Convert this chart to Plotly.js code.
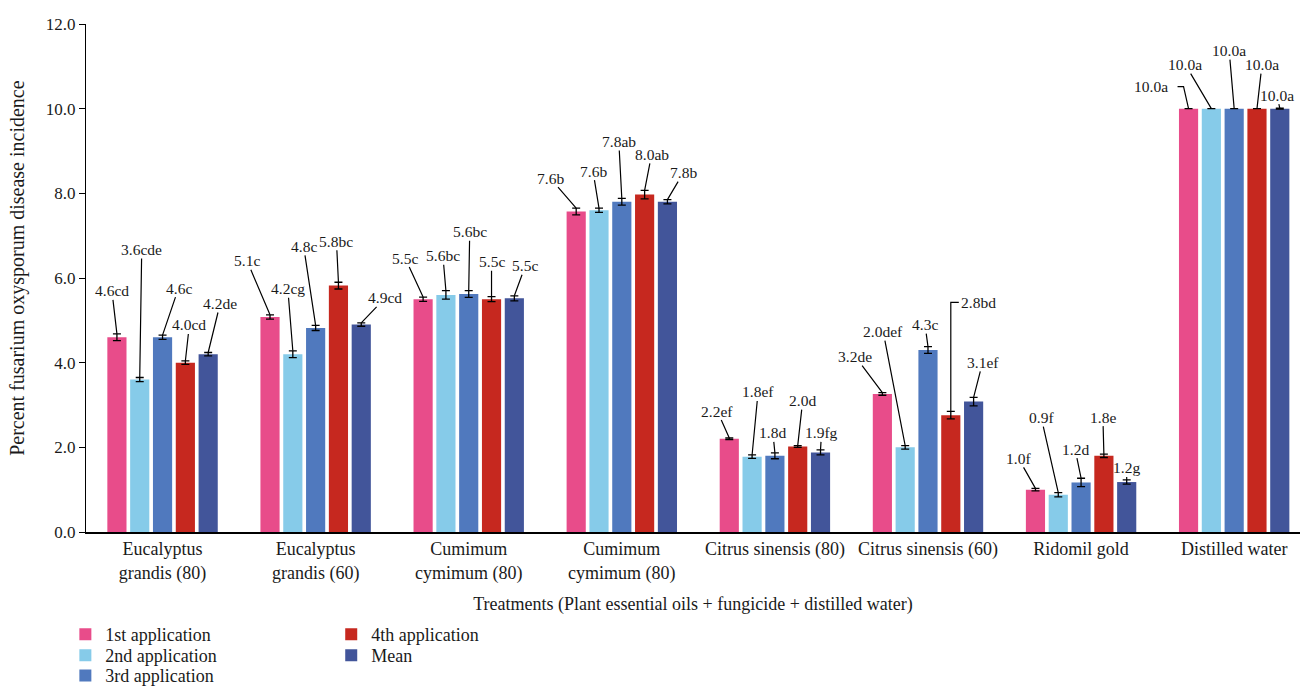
<!DOCTYPE html>
<html>
<head>
<meta charset="utf-8">
<script src="https://cdn.plot.ly/plotly-3.0.1.min.js"></script>
<style>html,body{margin:0;padding:0;background:#fff;}#chart{width:1300px;height:686px;}</style>
</head>
<body>
<div id="chart"></div>
<script>
// ---- data ----
const categories = ["Eucalyptus<br>grandis (80)", "Eucalyptus<br>grandis (60)", "Cumimum<br>cymimum (80)", "Cumimum<br>cymimum (80)", "Citrus sinensis (80)", "Citrus sinensis (60)", "Ridomil gold", "Distilled water"];
const seriesNames = ["1st application", "2nd application", "3rd application", "4th application", "Mean"];

const app1 = [4.6, 5.08, 5.5, 7.57, 2.2, 3.26, 1.0, 10.0];
const app2 = [3.6, 4.2, 5.6, 7.6, 1.78, 2.0, 0.88, 10.0];
const app3 = [4.6, 4.82, 5.62, 7.8, 1.8, 4.3, 1.17, 10.0];
const app4 = [4.0, 5.82, 5.5, 7.97, 2.02, 2.76, 1.8, 10.0];
const meanVals = [4.2, 4.9, 5.52, 7.8, 1.88, 3.08, 1.18, 10.0];

const err1 = [0.08, 0.05, 0.05, 0.08, 0.02, 0.03, 0.03, 0.0];
const err2 = [0.05, 0.08, 0.1, 0.05, 0.04, 0.04, 0.05, 0.0];
const err3 = [0.05, 0.06, 0.08, 0.08, 0.07, 0.08, 0.1, 0.0];
const err4 = [0.04, 0.08, 0.06, 0.1, 0.02, 0.09, 0.04, 0.0];
const err5 = [0.04, 0.04, 0.06, 0.05, 0.06, 0.1, 0.05, 0.01];

const lbl1 = ["4.6cd", "5.1c", "5.5c", "7.6b", "2.2ef", "3.2de", "1.0f", "10.0a"];
const lbl2 = ["3.6cde", "4.2cg", "5.6bc", "7.6b", "1.8ef", "2.0def", "0.9f", "10.0a"];
const lbl3 = ["4.6c", "4.8c", "5.6bc", "7.8ab", "1.8d", "4.3c", "1.2d", "10.0a"];
const lbl4 = ["4.0cd", "5.8bc", "5.5c", "8.0ab", "2.0d", "2.8bd", "1.8e", "10.0a"];
const lbl5 = ["4.2de", "4.9cd", "5.5c", "7.8b", "1.9fg", "3.1ef", "1.2g", "10.0a"];

const yTickVals = [0, 2, 4, 6, 8, 10, 12];
const xTitle = "Treatments (Plant essential oils + fungicide + distilled water)";
const yTitle = "Percent fusarium oxysporum disease incidence";

// ---- styles ----
const colors = ["#E84C8A", "#86CBE9", "#5079BE", "#C6281F", "#42559A"];
const FONT = "Liberation Serif, Times New Roman, serif";
const TXT = "#1a1a1a";
// label offsets in pixels [ax, ay] relative to the error-bar top; "L"/"R" = elbow leader
const offs = [
  [[-5,-43],[-23,-54],[-18,-39],[-26,-30],[-12,-27],[-27,-36],[-17,-30],"L"],
  [[2,-128],[-5,-62],[-3,-35],[-6,-37],[6,-63],[-22,-114],[-17,-75],[-26,-44]],
  [[16,-47],[-12,-79],[1,-59],[-3,-57],[-2,-20],[-3,-22],[-6,-29],[-5,-58]],
  [[4,-36],[-2,-41],[0,-35],[7,-36],[5,-45],"R",[-1,-37],[5,-44]],
  [[12,-49],[24,-25],[11,-30],[16,-27],[1,-17],[9,-35],[0,-12],[-3,-13]]
];
// legend entry placement (paper coords): column x, row top y
const legendPos = [[-0.017, -0.1654], [-0.017, -0.2067], [-0.017, -0.2465], [0.202, -0.1654], [0.202, -0.2067]];

const vals = [app1, app2, app3, app4, meanVals];
const errs = [err1, err2, err3, err4, err5];
const lbls = [lbl1, lbl2, lbl3, lbl4, lbl5];
const xs = categories.map((c, i) => i);

const BARGAP = 0.255;
const slot = (1 - BARGAP) / 5;
const LBLFONT = {family: FONT, size: 15.5, color: TXT};
const legendIds = ["legend", "legend2", "legend3", "legend4", "legend5"];

const traces = vals.map((v, s) => ({
  type: "bar",
  x: xs,
  y: v,
  name: seriesNames[s],
  legend: legendIds[s],
  marker: {color: colors[s]},
  error_y: {type: "data", array: errs[s], visible: true, color: "#000", thickness: 1.3, width: 4},
  hoverinfo: "skip"
}));

const annotations = [];
const shapes = [];
vals.forEach((v, s) => {
  v.forEach((val, g) => {
    const bx = g + (s - 2) * slot;
    const by = val + errs[s][g];
    const o = offs[s][g];
    if (o === "L") {
      shapes.push({type: "path", xref: "x", yref: "y", xsizemode: "pixel", ysizemode: "pixel",
        xanchor: bx, yanchor: by, path: "M0,0 L-5,22 L-11,22", line: {color: "#000", width: 1.2}});
      annotations.push({x: bx, y: by, xref: "x", yref: "y", text: lbls[s][g], showarrow: false,
        xanchor: "right", yanchor: "middle", xshift: -19, yshift: 22, font: LBLFONT});
    } else if (o === "R") {
      shapes.push({type: "path", xref: "x", yref: "y", xsizemode: "pixel", ysizemode: "pixel",
        xanchor: bx, yanchor: by, path: "M0,0 L0,109 L8,109", line: {color: "#000", width: 1.2}});
      annotations.push({x: bx, y: by, xref: "x", yref: "y", text: lbls[s][g], showarrow: false,
        xanchor: "left", yanchor: "middle", xshift: 8, yshift: 109, font: LBLFONT});
    } else {
      annotations.push({x: bx, y: by, xref: "x", yref: "y", text: lbls[s][g], showarrow: true,
        arrowhead: 0, arrowwidth: 1.2, arrowcolor: "#000", ax: o[0], ay: o[1], standoff: 0,
        borderpad: 0, font: LBLFONT});
    }
  });
});

// y-axis title (placed as rotated text)
annotations.push({xref: "paper", yref: "paper", x: -0.056, y: 0.52, text: yTitle, textangle: -90,
  showarrow: false, xanchor: "center", yanchor: "middle", font: {family: FONT, size: 20, color: TXT}});

const layout = {
  width: 1300, height: 686,
  margin: {l: 86, r: 0, t: 24, b: 154, autoexpand: false},
  paper_bgcolor: "#fff", plot_bgcolor: "#fff",
  font: {family: FONT, size: 18, color: TXT},
  barmode: "group",
  bargap: BARGAP,
  bargroupgap: 0.16,
  xaxis: {
    range: [-0.5, 7.43],
    tickvals: xs, ticktext: categories,
    showline: true, linecolor: "#000", linewidth: 1.5,
    ticks: "", showgrid: false, zeroline: false,
    tickfont: {family: FONT, size: 18, color: TXT},
    title: {text: xTitle, standoff: 15, font: {family: FONT, size: 18, color: TXT}}
  },
  yaxis: {
    range: [0, 12],
    tickvals: yTickVals, tickformat: ".1f",
    showline: true, linecolor: "#000", linewidth: 1,
    ticks: "outside", ticklen: 6, tickcolor: "#000",
    showgrid: false, zeroline: false,
    tickfont: {family: FONT, size: 17, color: TXT}
  },
  showlegend: true,
  annotations: annotations,
  shapes: shapes
};
legendIds.forEach((id, i) => {
  layout[id] = {x: legendPos[i][0], xanchor: "left", y: legendPos[i][1], yanchor: "top",
    orientation: "v", font: {family: FONT, size: 18, color: TXT}, bgcolor: "rgba(0,0,0,0)"};
});

Plotly.newPlot("chart", traces, layout, {displayModeBar: false, staticPlot: true});
</script>
</body>
</html>
